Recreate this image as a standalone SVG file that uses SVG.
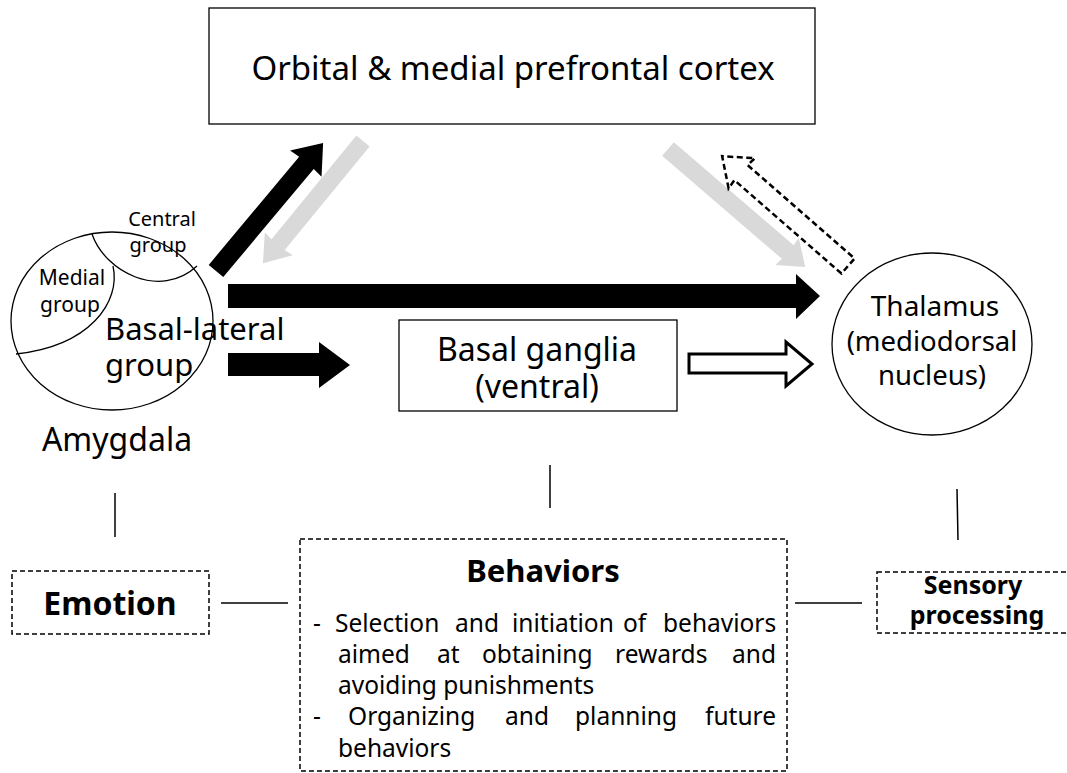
<svg xmlns="http://www.w3.org/2000/svg" width="1067" height="773" viewBox="0 0 1067 773">
<style>
text{font-family:"Noto Sans","Open Sans","Liberation Sans",sans-serif;fill:#000}
.box{fill:#fff;stroke:#000;stroke-width:1.3}
.dash{fill:#fff;stroke:#000;stroke-width:1.5;stroke-dasharray:5 3}
.thin{fill:none;stroke:#000;stroke-width:1.3}
.line{stroke:#000;stroke-width:1.5}
.blk{fill:#000}
.gry{fill:#d9d9d9}
.wht{fill:#fff;stroke:#000;stroke-width:3}
.dwh{fill:#fff;stroke:#000;stroke-width:2.5;stroke-dasharray:6 3.5}
.t31{font-size:31px}
.t21{font-size:21px}
</style>
<rect width="1067" height="773" fill="#fff"/>

<g id="pfc">
<rect class="box" x="209" y="8" width="606" height="116"/>
<text font-size="33" x="513" y="80" text-anchor="middle">Orbital &amp; medial prefrontal cortex</text>
</g>

<g id="amygdala">
<ellipse class="thin" cx="112" cy="321" rx="101" ry="89"/>
<path class="thin" d="M92 234 C105 272 160 300 197 266"/>
<path class="thin" d="M113 266 C121 302 90 346 16 354"/>
<text font-size="20" x="162" y="226" text-anchor="middle">Central</text>
<text font-size="20" x="158" y="252" text-anchor="middle">group</text>
<text class="t21" x="72" y="285" text-anchor="middle">Medial</text>
<text class="t21" x="70" y="312" text-anchor="middle">group</text>
<text class="t31" x="105" y="340">Basal-lateral</text>
<text class="t31" x="105" y="376">group</text>
<text font-size="32" x="117" y="451" text-anchor="middle">Amygdala</text>
</g>

<g id="basal-ganglia">
<rect class="box" x="399" y="320" width="278" height="91"/>
<text font-size="32" x="537" y="361" text-anchor="middle">Basal  ganglia</text>
<text font-size="32" x="537" y="398" text-anchor="middle">(ventral)</text>
</g>

<g id="thalamus">
<ellipse class="thin" cx="932" cy="344" rx="100" ry="91"/>
<text font-size="28" x="935" y="316" text-anchor="middle">Thalamus</text>
<text font-size="27.5" x="932" y="351" text-anchor="middle">(mediodorsal</text>
<text font-size="27.5" x="932" y="385" text-anchor="middle">nucleus)</text>
</g>

<g id="emotion">
<rect class="dash" x="12" y="571" width="197" height="63"/>
<text font-size="32" font-weight="bold" x="110" y="615" text-anchor="middle">Emotion</text>
</g>

<g id="behaviors">
<rect class="dash" x="300" y="539" width="487" height="232"/>
<text class="t31" font-weight="bold" x="543" y="582" text-anchor="middle">Behaviors</text>
<text font-size="24.5">
<tspan x="313" y="632">-</tspan><tspan x="335" y="632">Selection</tspan><tspan x="455" y="632">and</tspan><tspan x="512" y="632">initiation</tspan><tspan x="623" y="632">of</tspan><tspan x="663" y="632">behaviors</tspan>
<tspan x="338" y="663">aimed</tspan><tspan x="437" y="663">at</tspan><tspan x="482" y="663">obtaining</tspan><tspan x="615" y="663">rewards</tspan><tspan x="732" y="663">and</tspan>
<tspan x="338" y="694">avoiding punishments</tspan>
<tspan x="313" y="725">-</tspan><tspan x="348" y="725">Organizing</tspan><tspan x="505" y="725">and</tspan><tspan x="575" y="725">planning</tspan><tspan x="705" y="725">future</tspan>
<tspan x="338" y="757">behaviors</tspan>
</text>
</g>

<g id="sensory">
<rect class="dash" x="877" y="572" width="200" height="61"/>
<text font-size="25" font-weight="bold" x="973" y="594" text-anchor="middle">Sensory</text>
<text font-size="25" font-weight="bold" x="977" y="624" text-anchor="middle">processing</text>
</g>

<g id="connectors">
<polygon class="blk" transform="translate(216 271) rotate(-50.1)" points="0,-9.5 141,-9.5 140,-20.5 167,0 140,20.5 141,9.5 0,9.5"/>
<polygon class="gry" transform="translate(363 141) rotate(129.3)" points="0,-8.5 134,-8.5 133,-18 158,0 133,18 134,8.5 0,8.5"/>
<polygon class="gry" transform="translate(668 149) rotate(40.7)" points="0,-9 158,-9 157,-18 181,0 157,18 158,9 0,9"/>
<polygon class="dwh" transform="translate(848 266) rotate(-138.9)" points="0,-10 142,-10 141,-20 167,0 141,20 142,10 0,10"/>
<polygon class="blk" points="228,284 796,284 796,274 820,296 796,319 796,308 228,308"/>
<polygon class="blk" points="228,353 319,353 319,342 350,365 319,388 319,376 228,376"/>
<polygon class="wht" points="689,354 786,354 786,342 812,364 786,386 786,373 689,373"/>
<line class="line" x1="115" y1="493" x2="115" y2="537"/>
<line class="line" x1="550" y1="465" x2="550" y2="508"/>
<line class="line" x1="957" y1="489" x2="958" y2="540"/>
<line class="line" x1="221" y1="603" x2="288" y2="603"/>
<line class="line" x1="795" y1="603" x2="862" y2="603"/>
</g>
</svg>
